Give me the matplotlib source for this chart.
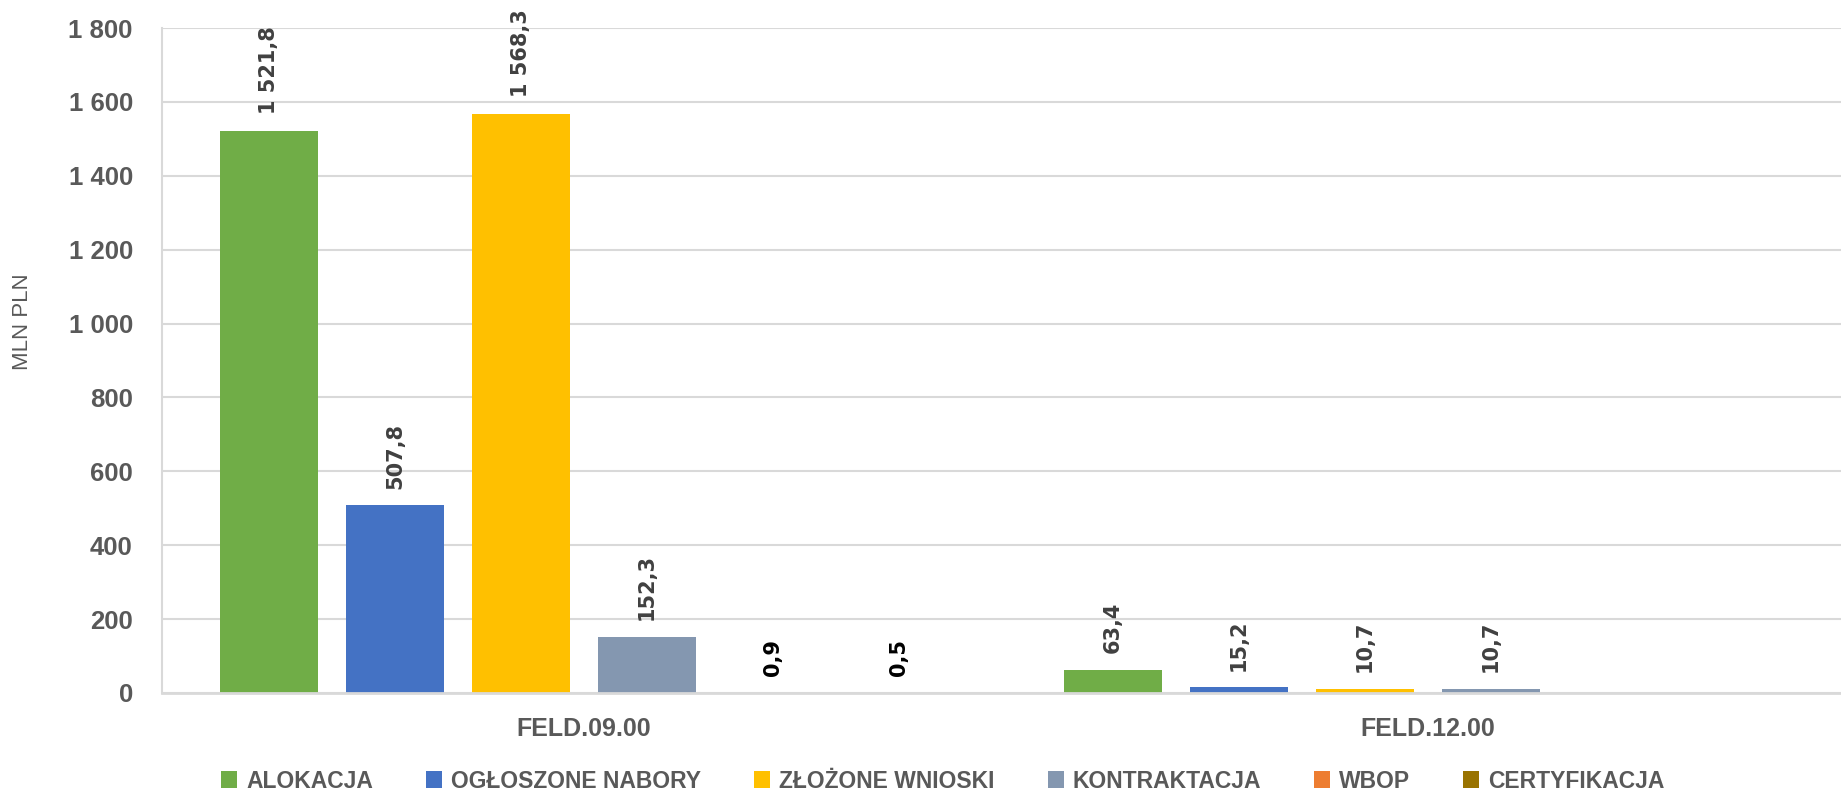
import matplotlib
matplotlib.use("Agg")
import matplotlib.pyplot as plt
import numpy as np
from matplotlib.patches import Patch

categories = ["FELD.09.00", "FELD.12.00"]
series = ["ALOKACJA", "OGŁOSZONE NABORY", "ZŁOŻONE WNIOSKI", "KONTRAKTACJA", "WBOP", "CERTYFIKACJA"]
colors = ["#70AD47", "#4472C4", "#FFC000", "#8497B0", "#ED7D31", "#997300"]
values = {
    "ALOKACJA": [1521.8, 63.4],
    "OGŁOSZONE NABORY": [507.8, 15.2],
    "ZŁOŻONE WNIOSKI": [1568.3, 10.7],
    "KONTRAKTACJA": [152.3, 10.7],
    "WBOP": [0.9, None],
    "CERTYFIKACJA": [0.5, None],
}
yticks = [0, 200, 400, 600, 800, 1000, 1200, 1400, 1600, 1800]

GREY = "#595959"
LBL = "#404040"
tickfont = ["Liberation Sans", "DejaVu Sans"]

fig = plt.figure(figsize=(18.41, 7.94), dpi=100)
ax = fig.add_axes([162/1841, 1-693/794, 1688/1841, (693-28)/794])

pitch = 0.1493
width = 0.115
x = np.arange(len(categories))
for i, s in enumerate(series):
    for j, v in enumerate(values[s]):
        if v is None:
            continue
        xp = x[j] + (i - 2.5) * pitch
        ax.bar(xp, v, width=width, color=colors[i], zorder=3)
        txt = f"{v:,.1f}".replace(",", " ").replace(".", ",")
        c = "black" if v < 1 else LBL
        ax.annotate(txt, (xp, v), xytext=(0, 12), textcoords="offset points",
                    rotation=90, ha="center", va="bottom", fontsize=15,
                    fontweight="bold", color=c, family=["DejaVu Sans"])

ax.set_xlim(-0.5, 1.5)
ax.set_ylim(0, 1800)
ax.set_yticks(yticks)
ax.set_yticklabels([f"{t:,}".replace(",", " ") for t in yticks])
ax.set_xticks(x)
ax.set_xticklabels(categories)
for lab in ax.get_yticklabels():
    lab.set_fontsize(18.5)
for lab in ax.get_xticklabels():
    lab.set_fontsize(18)
for lab in ax.get_yticklabels() + ax.get_xticklabels():
    lab.set_family(tickfont)
    lab.set_fontweight("bold")
    lab.set_color(GREY)
ax.tick_params(axis="y", length=0, pad=21)
ax.tick_params(axis="x", length=0, pad=17)
ax.grid(axis="y", color="#D9D9D9", linewidth=1.5, zorder=0)
for sp in ["top", "right"]:
    ax.spines[sp].set_visible(False)
ax.spines["left"].set_color("#D9D9D9")
ax.spines["left"].set_linewidth(1.5)
ax.spines["bottom"].set_color("#D9D9D9")
ax.spines["bottom"].set_linewidth(2)
ax.spines["bottom"].set_zorder(4)

fig.text(23/1841, 1-322/794, "MLN PLN", rotation=90, ha="center", va="center",
         fontsize=16, color=GREY, family=tickfont)

handles = [Patch(facecolor=c, edgecolor="none") for c in colors]
leg = fig.legend(handles, series, loc="center", bbox_to_anchor=(943/1841, 1-781/794),
                 ncol=6, frameon=False, handlelength=0.7, handleheight=0.7,
                 handletextpad=0.4, columnspacing=2.3,
                 prop={"family": tickfont, "weight": "bold", "size": 16.5})
for t in leg.get_texts():
    t.set_color(GREY)

fig.savefig("out.png", dpi=100, facecolor="white")
